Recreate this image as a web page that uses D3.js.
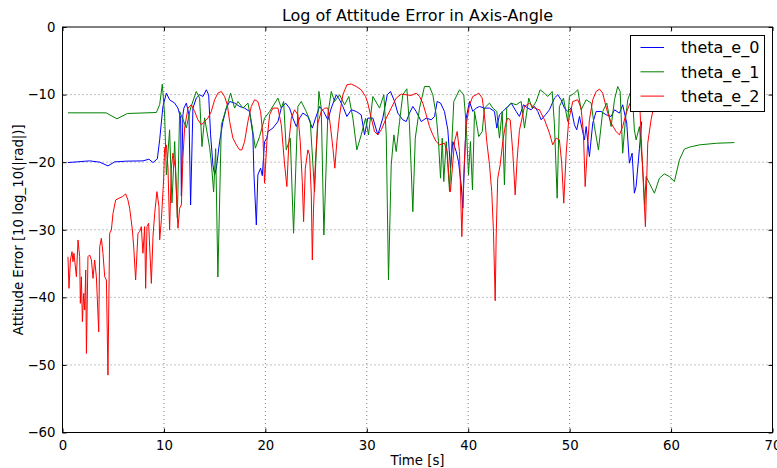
<!DOCTYPE html>
<html>
<head>
<meta charset="utf-8">
<script src="https://cdn.jsdelivr.net/npm/d3@7"></script>
<style>
  html, body { margin: 0; padding: 0; background: #fff; }
  svg { display: block; font-family: "DejaVu Sans", sans-serif; }
</style>
</head>
<body>
<svg id="chart" width="777" height="468"></svg>
<script>
// theta_e_0 (blue)
const t0 = [0.54,2.68,3.67,4.48,5.14,6.30,7.93,8.52,8.92,9.35,9.58,9.90,10.24,10.56,11.06,11.38,11.65,11.72,11.87,11.97,12.21,12.47,12.63,12.86,13.19,13.52,13.85,14.18,14.41,14.60,14.83,15.00,15.17,15.49,15.82,16.15,16.48,16.97,17.46,17.95,18.45,18.77,18.87,19.11,19.26,19.53,19.70,19.92,20.15,20.25,20.74,21.24,21.57,21.99,22.39,22.71,23.05,23.37,23.70,24.19,24.63,24.95,25.35,25.74,26.16,26.50,26.99,27.32,27.64,28.04,28.47,28.96,29.45,29.78,30.10,30.60,31.09,31.58,32.02,32.34,32.74,33.06,33.55,33.89,34.21,34.54,34.87,35.37,35.86,36.35,36.68,36.94,37.27,37.66,37.99,38.25,38.48,38.82,39.04,39.31,39.47,39.80,40.13,40.45,40.79,41.11,41.60,42.10,42.59,42.82,43.08,43.41,43.90,44.24,44.73,45.05,45.45,45.87,46.21,46.53,46.86,47.19,47.62,48.01,48.50,48.83,49.16,49.49,49.81,50.15,50.47,50.70,50.97,51.46,51.63,51.95,52.28,52.61,53.10,53.60,54.09,54.42,54.91,55.23,55.63,55.89,56.16,56.38,56.55,56.88,57.10];
const v0 = [-20.06,-19.81,-20.00,-20.55,-19.96,-19.85,-19.81,-19.56,-20.06,-19.51,-16.70,-11.76,-9.78,-10.77,-11.26,-12.00,-13.48,-25.00,-13.00,-12.00,-11.26,-12.99,-26.33,-12.00,-10.52,-10.03,-10.28,-9.29,-10.03,-15.96,-20.40,-21.88,-20.89,-16.95,-13.99,-12.00,-11.02,-11.26,-11.76,-12.00,-12.50,-15.96,-21.63,-29.29,-21.88,-20.89,-22.00,-17.00,-16.44,-15.47,-14.96,-13.99,-12.00,-11.26,-12.00,-13.48,-14.73,-13.48,-12.74,-13.24,-14.96,-13.48,-11.76,-12.50,-13.73,-12.00,-10.03,-10.77,-11.76,-13.24,-12.25,-12.50,-13.00,-15.96,-13.48,-13.48,-15.96,-13.48,-10.03,-9.54,-11.02,-12.74,-13.73,-13.99,-12.74,-11.76,-12.50,-13.99,-13.48,-13.73,-13.24,-11.02,-11.26,-12.50,-15.21,-20.89,-16.95,-18.43,-19.91,-23.36,-26.80,-13.48,-11.02,-12.50,-12.00,-11.76,-12.00,-12.00,-12.50,-14.96,-12.99,-12.50,-11.76,-11.26,-12.50,-13.24,-11.51,-12.00,-12.25,-11.76,-12.50,-13.73,-12.99,-12.25,-10.52,-10.03,-10.77,-12.00,-12.50,-12.00,-14.47,-15.21,-13.24,-16.70,-14.73,-19.17,-14.22,-12.50,-12.50,-12.99,-13.24,-12.25,-12.74,-11.51,-14.22,-20.15,-18.67,-24.59,-23.61,-18.00,-14.00];

// theta_e_1 (green)
const t1 = [0.54,4.30,5.37,6.40,9.25,9.58,9.84,10.07,10.24,10.56,10.79,11.06,11.32,11.55,12.21,12.63,13.19,13.52,13.75,14.01,14.51,14.67,14.90,15.10,15.32,15.66,16.15,16.57,16.97,17.29,17.79,18.28,18.67,19.01,19.43,19.92,20.42,21.24,21.57,21.80,22.06,22.46,22.78,23.21,23.54,24.03,24.43,24.85,25.28,25.51,25.77,26.16,26.50,26.82,27.32,27.81,28.23,28.63,29.02,29.45,29.88,30.17,30.60,31.26,31.68,31.92,32.14,32.41,32.67,32.90,33.23,33.55,33.95,34.21,34.54,34.78,35.20,35.69,36.18,36.51,36.84,37.07,37.27,37.44,37.59,37.83,38.16,38.58,39.14,39.56,39.80,40.03,40.22,40.42,40.62,41.04,41.38,41.60,42.10,42.42,42.82,43.08,43.35,43.57,43.80,44.24,44.73,45.22,45.55,45.97,46.30,46.70,47.09,47.52,47.84,48.28,48.50,48.77,48.99,49.39,49.81,49.98,50.47,50.80,51.13,51.63,52.12,52.44,52.84,53.26,53.66,54.09,54.42,54.74,54.98,55.23,55.50,55.73,55.96,56.20,56.38,56.55,56.88,57.20,57.40,57.54,57.86,58.36,58.85,59.34,59.83,60.33,60.82,61.31,61.80,62.79,64.50,66.24];
const v1 = [-12.70,-12.70,-13.59,-12.80,-12.65,-11.50,-8.45,-13.00,-21.90,-15.21,-26.03,-16.95,-28.25,-12.50,-14.92,-12.00,-9.54,-10.52,-17.69,-13.44,-17.88,-20.00,-24.40,-18.00,-37.00,-14.47,-12.00,-9.78,-12.00,-11.02,-12.00,-11.26,-14.47,-17.93,-16.21,-13.50,-12.50,-10.52,-12.00,-11.02,-18.18,-16.44,-30.52,-11.76,-11.02,-12.50,-13.99,-24.36,-9.54,-12.00,-30.77,-12.99,-9.54,-11.02,-10.03,-11.51,-10.28,-13.48,-18.18,-15.96,-13.50,-15.96,-10.28,-12.00,-10.03,-15.96,-37.44,-20.40,-15.96,-18.43,-13.99,-10.03,-9.14,-14.47,-27.32,-16.44,-12.00,-8.80,-8.80,-10.03,-12.99,-16.95,-22.37,-16.44,-22.87,-16.95,-24.36,-11.02,-9.29,-10.03,-14.47,-21.88,-16.95,-24.10,-12.50,-16.21,-15.47,-12.00,-11.26,-12.00,-12.50,-16.44,-12.50,-23.36,-12.00,-11.26,-11.51,-11.02,-14.96,-10.52,-12.00,-11.02,-9.29,-9.78,-10.28,-9.54,-14.47,-25.33,-11.76,-10.52,-13.99,-10.28,-9.78,-9.29,-12.25,-10.77,-11.26,-14.73,-18.18,-12.50,-11.26,-14.73,-10.77,-8.80,-9.54,-18.67,-13.73,-10.77,-9.78,-10.50,-15.21,-16.70,-14.73,-20.65,-26.30,-22.13,-23.11,-24.59,-22.37,-21.73,-22.13,-22.87,-19.66,-18.07,-17.78,-17.44,-17.20,-17.10];

// theta_e_2 (red)
const t2 = [0.54,0.64,0.78,0.94,1.03,1.13,1.37,1.53,1.69,1.76,1.86,1.96,2.09,2.19,2.29,2.36,2.51,2.68,2.85,3.01,3.17,3.34,3.57,3.67,3.83,3.99,4.16,4.33,4.48,4.65,4.82,4.98,5.24,5.57,5.90,6.23,6.45,6.62,6.89,7.02,7.21,7.44,7.61,7.77,7.93,8.10,8.20,8.33,8.49,8.76,8.92,9.09,9.31,9.51,9.58,9.75,9.97,10.07,10.24,10.40,10.56,10.73,10.89,11.13,11.38,11.55,11.72,11.87,12.04,12.37,12.70,13.03,13.35,13.69,14.01,14.34,14.67,15.00,15.32,15.66,15.98,16.25,16.48,16.80,17.14,17.46,17.69,17.95,18.28,18.61,18.94,19.26,19.53,19.76,19.92,20.15,20.42,20.74,21.24,21.57,21.90,22.12,22.32,22.56,22.88,23.21,23.44,23.64,23.77,23.94,24.19,24.36,24.53,24.63,24.75,24.95,25.18,25.51,25.84,26.16,26.40,26.66,26.85,27.05,27.32,27.64,28.04,28.47,28.96,29.45,29.88,30.10,30.44,30.76,31.09,31.43,31.92,32.41,32.90,33.40,33.89,34.38,34.87,35.20,35.52,35.86,36.18,36.51,36.84,37.17,37.66,37.93,38.16,38.25,38.38,38.65,38.91,39.14,39.37,39.56,39.80,40.13,40.45,40.79,41.04,41.38,41.60,41.83,42.10,42.32,42.49,42.66,42.76,42.91,43.15,43.41,43.67,43.90,44.14,44.39,44.63,44.83,45.05,45.55,46.04,46.53,47.02,47.52,48.01,48.33,48.67,48.99,49.22,49.42,49.66,49.91,50.31,50.80,51.13,51.36,51.53,51.72,51.95,52.28,52.61,52.94,53.26,53.66,54.09,54.58,54.91,55.23,55.57,55.96,56.40,56.90,57.20,57.47,57.70,58.03,58.36,58.70];
const v2 = [-34.00,-38.67,-34.47,-33.24,-34.73,-33.48,-36.95,-31.51,-33.99,-40.89,-36.95,-43.61,-39.41,-41.88,-35.96,-48.30,-33.99,-33.73,-34.47,-37.19,-34.47,-36.95,-45.10,-32.50,-31.26,-33.48,-36.95,-37.44,-51.51,-30.52,-30.03,-27.56,-25.59,-25.33,-25.10,-24.70,-25.59,-26.81,-30.03,-32.50,-37.44,-30.52,-30.28,-29.54,-33.48,-29.54,-38.67,-29.54,-29.04,-37.93,-31.02,-27.56,-24.36,-26.58,-31.51,-28.50,-22.62,-17.93,-17.44,-20.89,-30.03,-20.89,-18.67,-20.89,-29.78,-26.81,-26.33,-19.41,-14.96,-12.00,-11.51,-12.50,-13.73,-14.47,-13.99,-13.48,-12.50,-10.77,-9.78,-9.54,-10.28,-11.51,-13.99,-16.44,-17.44,-18.18,-18.18,-16.95,-13.99,-11.76,-10.77,-11.02,-12.50,-16.00,-23.11,-16.95,-12.99,-12.00,-12.00,-14.47,-20.40,-23.61,-16.95,-13.48,-12.25,-12.99,-16.95,-22.87,-28.80,-20.89,-18.18,-18.92,-24.84,-34.47,-26.81,-19.41,-14.22,-12.50,-12.00,-12.00,-14.47,-17.93,-20.89,-16.95,-12.99,-10.03,-8.55,-8.44,-8.80,-9.29,-10.28,-11.26,-13.48,-15.47,-15.96,-15.21,-13.48,-12.00,-10.52,-9.93,-10.03,-10.13,-9.78,-10.28,-11.26,-12.99,-14.73,-15.96,-16.95,-17.44,-17.19,-18.43,-23.36,-24.36,-21.88,-16.95,-15.47,-18.43,-31.02,-21.88,-14.47,-11.51,-10.28,-10.03,-9.78,-10.52,-12.99,-16.95,-20.40,-24.36,-30.28,-40.50,-30.77,-22.37,-20.40,-16.95,-14.47,-13.48,-13.73,-18.43,-24.84,-19.41,-15.30,-11.76,-11.26,-12.00,-12.25,-13.73,-15.70,-17.44,-16.44,-16.70,-20.15,-26.07,-18.67,-13.73,-11.02,-10.77,-12.00,-15.70,-23.61,-18.67,-13.73,-10.77,-9.54,-9.19,-9.78,-12.25,-14.22,-15.47,-15.96,-14.73,-12.74,-11.26,-10.50,-11.00,-21.14,-29.54,-17.19,-13.73,-11.26,-9.80];

const seriesNames = ["theta_e_0", "theta_e_1", "theta_e_2"];
const seriesColors = ["#0000ff", "#008000", "#ff0000"];
const xTicks = [0, 10, 20, 30, 40, 50, 60, 70];
const yTicks = [0, -10, -20, -30, -40, -50, -60];
const titleText = "Log of Attitude Error in Axis-Angle";
const xLabel = "Time [s]";
const yLabel = "Attitude Error [10 log_10(|rad|)]";

const series = [
  { name: seriesNames[0], color: seriesColors[0], pts: t0.map((t, i) => [t, v0[i]]) },
  { name: seriesNames[1], color: seriesColors[1], pts: t1.map((t, i) => [t, v1[i]]) },
  { name: seriesNames[2], color: seriesColors[2], pts: t2.map((t, i) => [t, v2[i]]) }
];

const L = 62.5, R = 772.5, T = 27, B = 432.5;
const x = d3.scaleLinear().domain([0, 70]).range([L, R]);
const y = d3.scaleLinear().domain([-60, 0]).range([B, T]);
const fmt = d => (d < 0 ? "\u2212" + Math.abs(d) : String(d));

const svg = d3.select("#chart");

svg.append("defs").append("clipPath").attr("id", "plotclip")
  .append("rect").attr("x", L).attr("y", T).attr("width", R - L).attr("height", B - T);

// dotted grid
const grid = svg.append("g").attr("stroke", "#000").attr("stroke-width", 0.5)
  .attr("stroke-dasharray", "1,3").attr("fill", "none");
xTicks.slice(1, -1).forEach(d => grid.append("line")
  .attr("x1", x(d)).attr("x2", x(d)).attr("y1", T).attr("y2", B));
yTicks.slice(1, -1).forEach(d => grid.append("line")
  .attr("x1", L).attr("x2", R).attr("y1", y(d)).attr("y2", y(d)));

// data lines
const line = d3.line().x(d => x(d[0])).y(d => y(d[1]));
const lines = svg.append("g").attr("clip-path", "url(#plotclip)");
series.forEach(s => lines.append("path")
  .attr("d", line(s.pts)).attr("fill", "none")
  .attr("stroke", s.color).attr("stroke-width", 1).attr("stroke-linejoin", "round"));

// axes with inward ticks on all four sides
const axB = d3.axisBottom(x).tickValues(xTicks).tickFormat(fmt).tickSizeInner(-4).tickSizeOuter(0).tickPadding(8);
const axT = d3.axisTop(x).tickValues(xTicks).tickFormat("").tickSizeInner(-4).tickSizeOuter(0);
const axL = d3.axisLeft(y).tickValues(yTicks).tickFormat(fmt).tickSizeInner(-4).tickSizeOuter(0).tickPadding(7);
const axRt = d3.axisRight(y).tickValues(yTicks).tickFormat("").tickSizeInner(-4).tickSizeOuter(0);

function styleAxis(g) {
  g.select(".domain").remove();
  g.selectAll("line").attr("stroke", "#000").attr("stroke-width", 1);
  g.selectAll("text").attr("fill", "#000").style("font-size", "13.3px")
    .style("font-family", "'DejaVu Sans', sans-serif");
}
svg.append("g").attr("transform", `translate(0,${B})`).call(axB).call(styleAxis);
svg.append("g").attr("transform", `translate(0,${T})`).call(axT).call(styleAxis);
svg.append("g").attr("transform", `translate(${L},0)`).call(axL).call(styleAxis);
svg.append("g").attr("transform", `translate(${R},0)`).call(axRt).call(styleAxis);

// frame
svg.append("rect").attr("x", L).attr("y", T).attr("width", R - L).attr("height", B - T)
  .attr("fill", "none").attr("stroke", "#000").attr("stroke-width", 1);

// title and axis labels
svg.append("text").attr("x", (L + R) / 2).attr("y", 21).attr("text-anchor", "middle")
  .style("font-size", "16px").text(titleText);
svg.append("text").attr("x", (L + R) / 2).attr("y", 465).attr("text-anchor", "middle")
  .style("font-size", "13.3px").text(xLabel);
svg.append("text").attr("transform", `translate(23,${(T + B) / 2}) rotate(-90)`)
  .attr("text-anchor", "middle").style("font-size", "13.3px").text(yLabel);

// legend
const lg = svg.append("g");
lg.append("rect").attr("x", 630.5).attr("y", 35.5).attr("width", 134).attr("height", 76)
  .attr("fill", "#fff").attr("stroke", "#000").attr("stroke-width", 1);
series.forEach((s, i) => {
  const ry = 47.5 + i * 24.3;
  lg.append("line").attr("x1", 640.5).attr("x2", 664).attr("y1", ry).attr("y2", ry)
    .attr("stroke", s.color).attr("stroke-width", 1);
  lg.append("text").attr("x", 681).attr("y", ry).attr("dy", "0.36em")
    .style("font-size", "16px").text(s.name);
});
</script>
</body>
</html>
